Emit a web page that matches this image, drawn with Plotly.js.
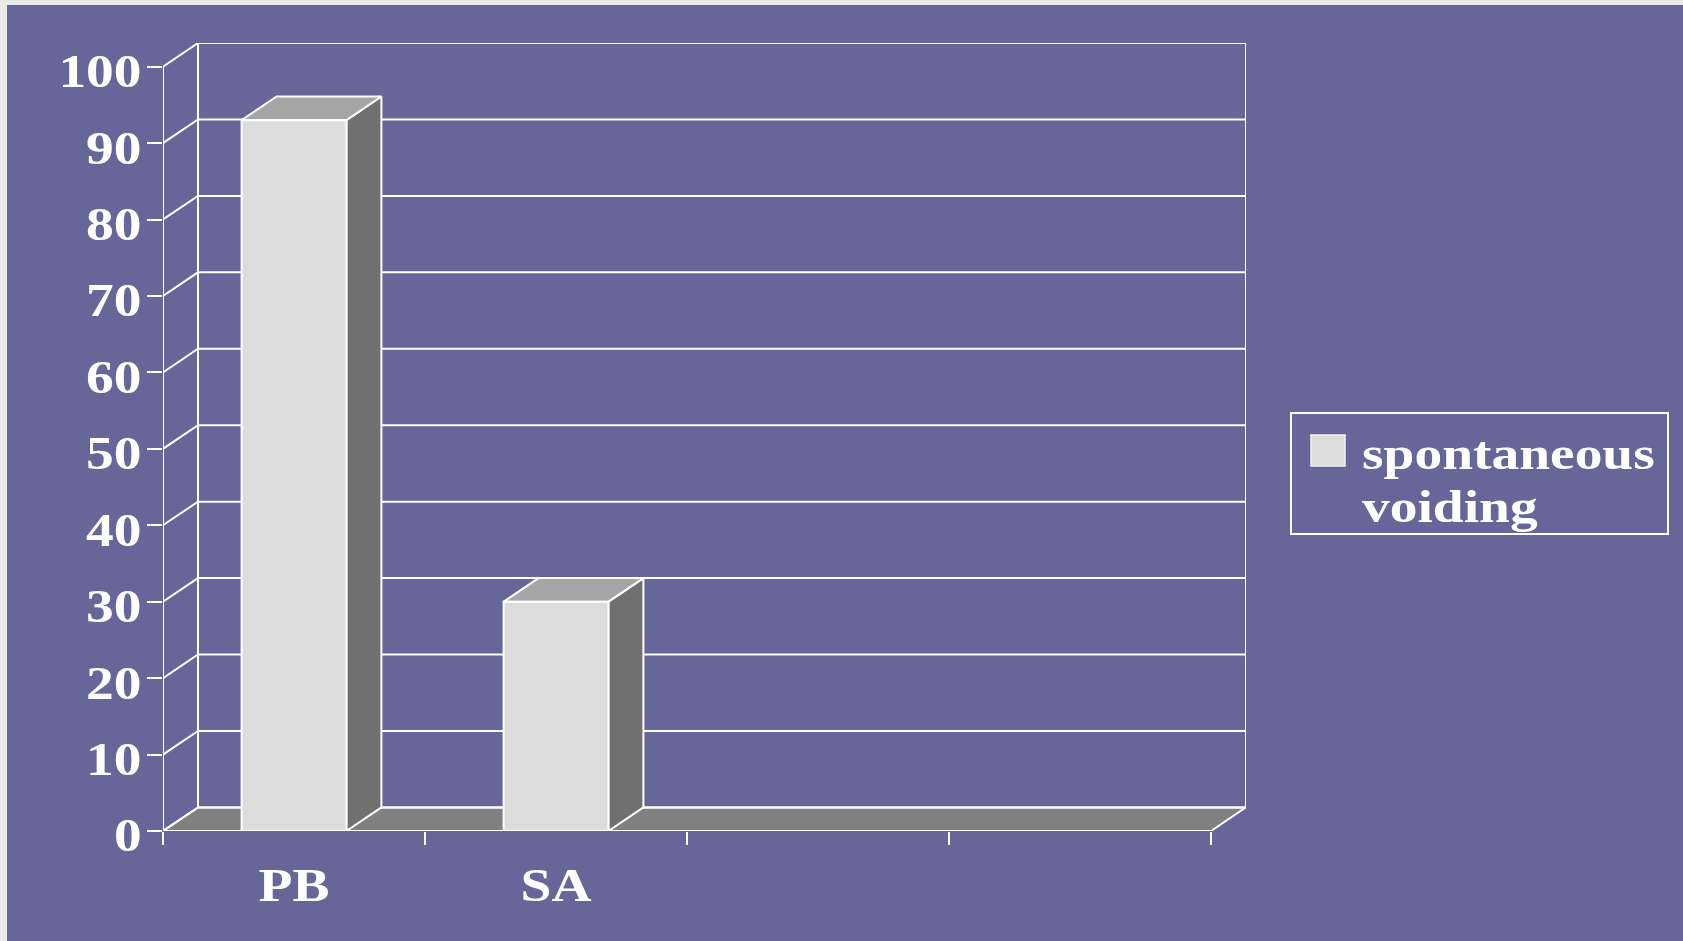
<!DOCTYPE html>
<html>
<head>
<meta charset="utf-8">
<script src="https://cdn.plot.ly/plotly-3.0.1.min.js"></script>
<style>
  html, body { margin: 0; padding: 0; background: #e9e9e9; width: 1683px; height: 941px; overflow: hidden; }
  #chart { position: absolute; left: 7px; top: 5px; width: 1676px; height: 936px; }
</style>
</head>
<body>
<div id="chart"></div>
<script>
// ---- data ----
const categories = ['PB', 'SA'];
const xTickLabels = ['PB', 'SA', '', ''];
const spontaneousVoiding = [93, 30];
const seriesName = ['spontaneous', 'voiding'];
const yTickValues = [0, 10, 20, 30, 40, 50, 60, 70, 80, 90, 100];

// ---- geometry / style ----
const W = 1676, H = 936;
const margin = { l: 156, r: 437, t: 38, b: 110 };
const slots = xTickLabels.length;
const yMax = yTickValues[yTickValues.length - 1];
const DX = 0.1336;   // depth of the box, x axis units
const DY = 3.09;     // depth of the box, y axis units
const GAP = 1.5;     // gap width relative to bar width
const barW = 1 / (1 + GAP);
const STRETCH = 1.18; // wide serif lettering

const BG = '#666699';
const EDGE = { color: '#ffffff', width: 2 };
const FRONT = '#dcdcdc', SIDE = '#707070', TOP = '#a5a5a5', FLOOR = '#808080';
const FONT = { family: 'Liberation Serif, Times New Roman, serif', size: 47, color: '#ffffff', weight: 'bold' };

const traces = [];

function face(xs, ys, color) {
  traces.push({
    type: 'scatter', mode: 'lines',
    x: xs.concat([xs[0]]), y: ys.concat([ys[0]]),
    fill: 'toself', fillcolor: color,
    line: EDGE, hoverinfo: 'skip', showlegend: false
  });
}

// floor
face([0, slots, slots + DX, DX], [0, 0, DY, DY], FLOOR);

// back wall gridlines, side wall diagonals, wall edges and front axis line
const gx = [], gy = [];
yTickValues.forEach(v => {
  gx.push(0, DX, slots + DX, null);
  gy.push(v, v + DY, v + DY, null);
});
gx.push(DX, DX, null, slots + DX, slots + DX, null, 0, 0, null);
gy.push(DY, yMax + DY, null, DY, yMax + DY, null, 0, yMax, null);
traces.push({ type: 'scatter', mode: 'lines', x: gx, y: gy, line: EDGE, hoverinfo: 'skip', showlegend: false });

// 3D columns
spontaneousVoiding.forEach((v, i) => {
  const a = i + (1 - barW) / 2, b = a + barW;
  face([b, b + DX, b + DX, b], [0, DY, v + DY, v], SIDE);
  face([a, b, b + DX, a + DX], [v, v, v + DY, v + DY], TOP);
  face([a, b, b, a], [0, 0, v, v], FRONT);
});

// legend built in paper coordinates from pixel positions
const pw = W - margin.l - margin.r, ph = H - margin.t - margin.b;
const px = x => (x - margin.l) / pw;
const py = y => (H - margin.b - y) / ph;

const shapes = [
  { type: 'rect', xref: 'paper', yref: 'paper', x0: px(1284), x1: px(1661), y0: py(529), y1: py(408),
    line: EDGE, fillcolor: 'rgba(0,0,0,0)' },
  { type: 'rect', xref: 'paper', yref: 'paper', x0: px(1304), x1: px(1338), y0: py(461), y1: py(430),
    line: { color: '#f4f4f4', width: 1.5 }, fillcolor: FRONT }
];
const annotations = seriesName.map((t, k) => ({
  xref: 'paper', yref: 'paper', x: px(1354), y: py(448 + k * 53),
  xanchor: 'left', yanchor: 'middle', align: 'left', text: t, showarrow: false, borderpad: 0, font: FONT
}));

const centers = xTickLabels.map((_, i) => i + 0.5);
const bounds = Array.from({ length: slots + 1 }, (_, i) => i);

const layout = {
  width: W, height: H,
  margin: margin,
  paper_bgcolor: BG, plot_bgcolor: BG,
  showlegend: false, hovermode: false,
  xaxis: {
    range: [0, slots + DX], tickmode: 'array', tickvals: centers, ticktext: xTickLabels,
    ticks: '', showgrid: false, zeroline: false, showline: false,
    tickfont: FONT, ticklabelstandoff: 22, fixedrange: true,
    minor: { tickmode: 'array', tickvals: bounds, ticks: 'outside', ticklen: 13, tickwidth: 2, tickcolor: '#ffffff', showgrid: false }
  },
  yaxis: {
    range: [0, yMax + DY], tickmode: 'array', tickvals: yTickValues,
    ticks: 'outside', ticklen: 15, tickwidth: 2, tickcolor: '#ffffff',
    showgrid: false, zeroline: false, showline: false,
    tickfont: FONT, ticklabelstandoff: -4, ticklabelshift: 4, fixedrange: true
  },
  shapes: shapes,
  annotations: annotations
};

Plotly.newPlot('chart', traces, layout, { staticPlot: true, displayModeBar: false }).then(gd => {
  // widen the lettering while keeping each label anchored in place
  gd.querySelectorAll('.xtick text, .ytick text, .annotation-text').forEach(t => {
    const w = t.getComputedTextLength();
    if (w > 0) {
      t.setAttribute('textLength', (w * STRETCH).toFixed(1));
      t.setAttribute('lengthAdjust', 'spacingAndGlyphs');
    }
  });
});
</script>
</body>
</html>
